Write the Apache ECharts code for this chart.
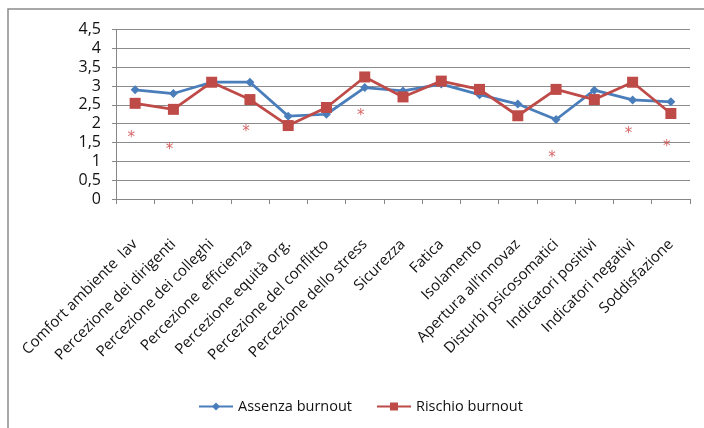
<!DOCTYPE html>
<html>
<head>
<meta charset="utf-8">
<script src="https://cdn.jsdelivr.net/npm/echarts@6/dist/echarts.min.js"></script>
<style>
  html, body { margin: 0; padding: 0; background: #fff; }
  #chart { width: 704px; height: 428px; }
</style>
</head>
<body>
<div id="chart"></div>
<script>
// Dimensioni valutate
const categories = [
  'Comfort ambiente  lav', 'Percezione dei dirigenti', 'Percezione dei colleghi',
  'Percezione  efficienza', 'Percezione equità org.', 'Percezione del conflitto',
  'Percezione dello stress', 'Sicurezza', 'Fatica', 'Isolamento',
  'Apertura all\u2019innovaz', 'Disturbi psicosomatici', 'Indicatori positivi',
  'Indicatori negativi', 'Soddisfazione'
];

// Punteggi medi per gruppo
const assenzaBurnout = [2.9, 2.8, 3.1, 3.1, 2.2, 2.25, 2.96, 2.87, 3.05, 2.77, 2.52, 2.11, 2.89, 2.63, 2.58];
const rischioBurnout = [2.54, 2.38, 3.1, 2.64, 1.95, 2.43, 3.24, 2.71, 3.13, 2.91, 2.21, 2.91, 2.64, 3.1, 2.27];

// Differenze significative (indice categoria, altezza del simbolo)
const significativi = [[0, 1.72], [1, 1.4], [3, 1.89], [6, 2.3], [11, 1.19], [13, 1.83], [14, 1.48]];

const yTicks = { min: 0, max: 4.5, interval: 0.5 };

const BLUE = '#4a7ebb';
const RED = '#be4b48';
const FONT = 'Open Sans';

const chart = echarts.init(document.getElementById('chart'));
chart.setOption({
  animation: false,
  backgroundColor: '#fff',
  textStyle: { fontFamily: FONT },
  graphic: [{
    type: 'rect',
    shape: { x: 8, y: 9, width: 720, height: 440 },
    style: { fill: 'none', stroke: '#8c8c8c', lineWidth: 1.5 },
    silent: true
  }],
  grid: { left: 116, right: 14, top: 29.5, bottom: 229 },
  legend: {
    bottom: 9,
    left: 193,
    itemWidth: 34,
    itemHeight: 10,
    itemGap: 24,
    textStyle: { fontFamily: FONT, fontSize: 14.5, color: '#111' },
    data: ['Assenza burnout', 'Rischio burnout']
  },
  xAxis: {
    type: 'category',
    data: categories,
    boundaryGap: true,
    axisLine: { lineStyle: { color: '#868686', width: 1 } },
    axisTick: { show: true, length: 5, lineStyle: { color: '#868686' } },
    axisLabel: {
      rotate: 45,
      interval: 0,
      margin: 43,
      fontSize: 15,
      color: '#111',
      fontFamily: FONT
    }
  },
  yAxis: {
    type: 'value',
    min: yTicks.min,
    max: yTicks.max,
    interval: yTicks.interval,
    axisLine: { show: true, lineStyle: { color: '#868686' } },
    axisTick: { show: true, length: 4, lineStyle: { color: '#868686' } },
    splitLine: { lineStyle: { color: '#8c8c8c', width: 1 } },
    axisLabel: {
      fontSize: 16,
      color: '#111',
      margin: 15,
      fontFamily: FONT,
      formatter: v => String(v).replace('.', ',')
    }
  },
  series: [
    {
      name: 'Assenza burnout',
      type: 'line',
      data: assenzaBurnout,
      symbol: 'diamond',
      symbolSize: 9,
      color: BLUE,
      lineStyle: { width: 2.75, color: BLUE },
      itemStyle: { color: BLUE }
    },
    {
      name: 'Rischio burnout',
      type: 'line',
      data: rischioBurnout,
      symbol: 'rect',
      symbolSize: 11,
      color: RED,
      lineStyle: { width: 2.75, color: RED },
      itemStyle: { color: RED }
    },
    {
      name: 'sig',
      type: 'scatter',
      data: significativi,
      symbolSize: 0,
      silent: true,
      label: {
        show: true,
        position: 'inside',
        formatter: '*',
        color: '#cc3f3f',
        fontSize: 15,
        offset: [-4, 4],
        fontFamily: 'DejaVu Sans'
      }
    }
  ]
});
</script>
</body>
</html>
